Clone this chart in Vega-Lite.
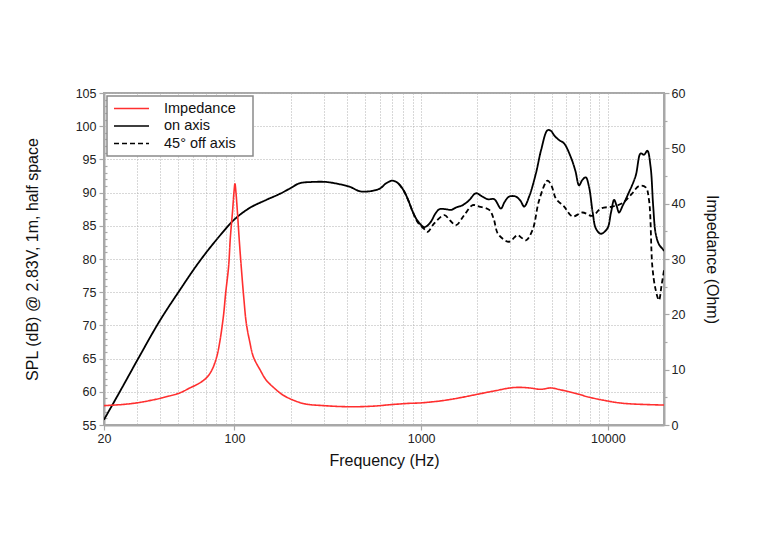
{
  "$schema": "https://vega.github.io/schema/vega-lite/v6.json",
  "width": 560,
  "height": 332,
  "autosize": {"type": "none"},
  "padding": {"left": 104, "top": 93, "right": 104, "bottom": 127},
  "background": "white",
  "config": {
    "font": "Liberation Sans",
    "view": {"stroke": "#a8a8a8", "strokeWidth": 2},
    "axis": {
      "domainColor": "#a8a8a8",
      "domainWidth": 2,
      "tickColor": "#a8a8a8",
      "tickWidth": 1.2,
      "labelFontSize": 12.5,
      "labelColor": "#222222",
      "titleFontSize": 16,
      "titleFontWeight": "normal",
      "titleColor": "#111111",
      "gridColor": "#b0b0b0",
      "gridDash": [1, 2],
      "gridWidth": 1
    },
    "legend": {
      "orient": "none",
      "legendX": 3,
      "legendY": 3,
      "strokeColor": "#8a8a8a",
      "strokeWidth": 1.5,
      "fillColor": "white",
      "padding": 4,
      "labelFontSize": 14.5,
      "labelColor": "#111111",
      "symbolType": "stroke",
      "symbolSize": 1225,
      "symbolStrokeWidth": 1.6,
      "symbolOffset": 2,
      "labelOffset": 14,
      "clipHeight": 17,
      "rowPadding": 0.5,
      "title": null
    }
  },
  "datasets": {
    "spl": [
      {"f": 20, "spl": 55.8, "series": "on axis"},
      {"f": 24.4, "spl": 60.1, "series": "on axis"},
      {"f": 31.2, "spl": 65.5, "series": "on axis"},
      {"f": 39.8, "spl": 70.7, "series": "on axis"},
      {"f": 50.9, "spl": 75.3, "series": "on axis"},
      {"f": 65.2, "spl": 79.7, "series": "on axis"},
      {"f": 83.4, "spl": 83.5, "series": "on axis"},
      {"f": 100.3, "spl": 86.0, "series": "on axis"},
      {"f": 120.8, "spl": 87.7, "series": "on axis"},
      {"f": 148, "spl": 88.9, "series": "on axis"},
      {"f": 174.6, "spl": 89.8, "series": "on axis"},
      {"f": 197.6, "spl": 90.6, "series": "on axis"},
      {"f": 223, "spl": 91.4, "series": "on axis"},
      {"f": 260, "spl": 91.6, "series": "on axis"},
      {"f": 310, "spl": 91.6, "series": "on axis"},
      {"f": 360, "spl": 91.3, "series": "on axis"},
      {"f": 413, "spl": 90.9, "series": "on axis"},
      {"f": 470, "spl": 90.2, "series": "on axis"},
      {"f": 530, "spl": 90.2, "series": "on axis"},
      {"f": 600, "spl": 90.6, "series": "on axis"},
      {"f": 650, "spl": 91.4, "series": "on axis"},
      {"f": 705, "spl": 91.8, "series": "on axis"},
      {"f": 760, "spl": 91.3, "series": "on axis"},
      {"f": 814, "spl": 90.1, "series": "on axis"},
      {"f": 860, "spl": 88.6, "series": "on axis"},
      {"f": 902, "spl": 87.1, "series": "on axis"},
      {"f": 960, "spl": 85.7, "series": "on axis"},
      {"f": 1041, "spl": 84.8, "series": "on axis"},
      {"f": 1120, "spl": 85.5, "series": "on axis"},
      {"f": 1190, "spl": 86.8, "series": "on axis"},
      {"f": 1253, "spl": 87.5, "series": "on axis"},
      {"f": 1350, "spl": 87.5, "series": "on axis"},
      {"f": 1446, "spl": 87.4, "series": "on axis"},
      {"f": 1550, "spl": 87.8, "series": "on axis"},
      {"f": 1667, "spl": 88.1, "series": "on axis"},
      {"f": 1800, "spl": 88.8, "series": "on axis"},
      {"f": 1966, "spl": 89.9, "series": "on axis"},
      {"f": 2100, "spl": 89.5, "series": "on axis"},
      {"f": 2270, "spl": 89.0, "series": "on axis"},
      {"f": 2466, "spl": 89.0, "series": "on axis"},
      {"f": 2675, "spl": 87.6, "series": "on axis"},
      {"f": 2800, "spl": 88.6, "series": "on axis"},
      {"f": 2964, "spl": 89.4, "series": "on axis"},
      {"f": 3217, "spl": 89.4, "series": "on axis"},
      {"f": 3400, "spl": 88.8, "series": "on axis"},
      {"f": 3565, "spl": 87.9, "series": "on axis"},
      {"f": 3800, "spl": 89.5, "series": "on axis"},
      {"f": 4120, "spl": 92.9, "series": "on axis"},
      {"f": 4400, "spl": 96.5, "series": "on axis"},
      {"f": 4755, "spl": 99.4, "series": "on axis"},
      {"f": 4954, "spl": 99.3, "series": "on axis"},
      {"f": 5200, "spl": 98.5, "series": "on axis"},
      {"f": 5490, "spl": 97.9, "series": "on axis"},
      {"f": 5834, "spl": 97.4, "series": "on axis"},
      {"f": 6324, "spl": 95.4, "series": "on axis"},
      {"f": 6700, "spl": 93.3, "series": "on axis"},
      {"f": 7016, "spl": 91.1, "series": "on axis"},
      {"f": 7300, "spl": 91.9, "series": "on axis"},
      {"f": 7621, "spl": 92.3, "series": "on axis"},
      {"f": 7927, "spl": 90.9, "series": "on axis"},
      {"f": 8300, "spl": 87.0, "series": "on axis"},
      {"f": 8630, "spl": 84.6, "series": "on axis"},
      {"f": 9168, "spl": 83.8, "series": "on axis"},
      {"f": 9945, "spl": 84.6, "series": "on axis"},
      {"f": 10400, "spl": 87.0, "series": "on axis"},
      {"f": 10810, "spl": 88.9, "series": "on axis"},
      {"f": 11150, "spl": 88.0, "series": "on axis"},
      {"f": 11490, "spl": 87.0, "series": "on axis"},
      {"f": 12000, "spl": 88.0, "series": "on axis"},
      {"f": 12720, "spl": 89.5, "series": "on axis"},
      {"f": 14090, "spl": 92.5, "series": "on axis"},
      {"f": 14990, "spl": 95.9, "series": "on axis"},
      {"f": 15630, "spl": 95.7, "series": "on axis"},
      {"f": 16290, "spl": 96.3, "series": "on axis"},
      {"f": 16950, "spl": 93.9, "series": "on axis"},
      {"f": 17500, "spl": 88.0, "series": "on axis"},
      {"f": 18030, "spl": 83.9, "series": "on axis"},
      {"f": 18800, "spl": 82.2, "series": "on axis"},
      {"f": 19800, "spl": 81.4, "series": "on axis"},
      {"f": 20000, "spl": 81.2, "series": "on axis"},
      {"f": 760, "spl": 91.3, "series": "45° off axis"},
      {"f": 814, "spl": 90.1, "series": "45° off axis"},
      {"f": 860, "spl": 88.6, "series": "45° off axis"},
      {"f": 902, "spl": 87.1, "series": "45° off axis"},
      {"f": 960, "spl": 85.5, "series": "45° off axis"},
      {"f": 1041, "spl": 84.5, "series": "45° off axis"},
      {"f": 1084, "spl": 84.1, "series": "45° off axis"},
      {"f": 1178, "spl": 85.4, "series": "45° off axis"},
      {"f": 1332, "spl": 86.6, "series": "45° off axis"},
      {"f": 1430, "spl": 85.8, "series": "45° off axis"},
      {"f": 1537, "spl": 85.1, "series": "45° off axis"},
      {"f": 1700, "spl": 86.6, "series": "45° off axis"},
      {"f": 1887, "spl": 88.1, "series": "45° off axis"},
      {"f": 2050, "spl": 87.9, "series": "45° off axis"},
      {"f": 2317, "spl": 87.4, "series": "45° off axis"},
      {"f": 2450, "spl": 86.0, "series": "45° off axis"},
      {"f": 2566, "spl": 83.9, "series": "45° off axis"},
      {"f": 2750, "spl": 83.0, "series": "45° off axis"},
      {"f": 2964, "spl": 82.6, "series": "45° off axis"},
      {"f": 3281, "spl": 83.6, "series": "45° off axis"},
      {"f": 3450, "spl": 83.2, "series": "45° off axis"},
      {"f": 3639, "spl": 82.8, "series": "45° off axis"},
      {"f": 3955, "spl": 84.4, "series": "45° off axis"},
      {"f": 4292, "spl": 88.9, "series": "45° off axis"},
      {"f": 4755, "spl": 91.8, "series": "45° off axis"},
      {"f": 5000, "spl": 91.0, "series": "45° off axis"},
      {"f": 5272, "spl": 89.1, "series": "45° off axis"},
      {"f": 5834, "spl": 87.9, "series": "45° off axis"},
      {"f": 6466, "spl": 86.4, "series": "45° off axis"},
      {"f": 7310, "spl": 87.0, "series": "45° off axis"},
      {"f": 8277, "spl": 86.5, "series": "45° off axis"},
      {"f": 9168, "spl": 87.6, "series": "45° off axis"},
      {"f": 10580, "spl": 87.9, "series": "45° off axis"},
      {"f": 11970, "spl": 88.4, "series": "45° off axis"},
      {"f": 13520, "spl": 89.9, "series": "45° off axis"},
      {"f": 14700, "spl": 91.0, "series": "45° off axis"},
      {"f": 15960, "spl": 90.8, "series": "45° off axis"},
      {"f": 16620, "spl": 88.9, "series": "45° off axis"},
      {"f": 17320, "spl": 78.9, "series": "45° off axis"},
      {"f": 18000, "spl": 75.5, "series": "45° off axis"},
      {"f": 18800, "spl": 73.8, "series": "45° off axis"},
      {"f": 19400, "spl": 76.0, "series": "45° off axis"},
      {"f": 20000, "spl": 78.3, "series": "45° off axis"}
    ],
    "imp": [
      {"f": 20, "z": 3.5, "series": "Impedance"},
      {"f": 25, "z": 3.7, "series": "Impedance"},
      {"f": 30, "z": 4.0, "series": "Impedance"},
      {"f": 35, "z": 4.4, "series": "Impedance"},
      {"f": 42, "z": 5.0, "series": "Impedance"},
      {"f": 50.9, "z": 5.8, "series": "Impedance"},
      {"f": 57.7, "z": 6.7, "series": "Impedance"},
      {"f": 65.2, "z": 7.6, "series": "Impedance"},
      {"f": 71.1, "z": 8.6, "series": "Impedance"},
      {"f": 75.6, "z": 9.9, "series": "Impedance"},
      {"f": 80.3, "z": 12.3, "series": "Impedance"},
      {"f": 83.4, "z": 15.0, "series": "Impedance"},
      {"f": 87.2, "z": 19.6, "series": "Impedance"},
      {"f": 89.8, "z": 24.0, "series": "Impedance"},
      {"f": 93.0, "z": 28.6, "series": "Impedance"},
      {"f": 95.0, "z": 33.8, "series": "Impedance"},
      {"f": 97.8, "z": 38.9, "series": "Impedance"},
      {"f": 99.4, "z": 42.1, "series": "Impedance"},
      {"f": 100.6, "z": 43.6, "series": "Impedance"},
      {"f": 101.8, "z": 42.1, "series": "Impedance"},
      {"f": 103.5, "z": 38.9, "series": "Impedance"},
      {"f": 106.1, "z": 33.4, "series": "Impedance"},
      {"f": 108.7, "z": 28.6, "series": "Impedance"},
      {"f": 112.1, "z": 23.1, "series": "Impedance"},
      {"f": 115.7, "z": 18.4, "series": "Impedance"},
      {"f": 120.8, "z": 15.0, "series": "Impedance"},
      {"f": 126.3, "z": 12.3, "series": "Impedance"},
      {"f": 137.5, "z": 9.9, "series": "Impedance"},
      {"f": 148, "z": 8.1, "series": "Impedance"},
      {"f": 164.3, "z": 6.6, "series": "Impedance"},
      {"f": 182, "z": 5.4, "series": "Impedance"},
      {"f": 210, "z": 4.4, "series": "Impedance"},
      {"f": 240, "z": 3.8, "series": "Impedance"},
      {"f": 300, "z": 3.5, "series": "Impedance"},
      {"f": 413, "z": 3.3, "series": "Impedance"},
      {"f": 550, "z": 3.4, "series": "Impedance"},
      {"f": 700, "z": 3.7, "series": "Impedance"},
      {"f": 850, "z": 3.9, "series": "Impedance"},
      {"f": 1000, "z": 4.0, "series": "Impedance"},
      {"f": 1300, "z": 4.4, "series": "Impedance"},
      {"f": 1600, "z": 4.9, "series": "Impedance"},
      {"f": 1968, "z": 5.5, "series": "Impedance"},
      {"f": 2500, "z": 6.2, "series": "Impedance"},
      {"f": 3000, "z": 6.7, "series": "Impedance"},
      {"f": 3354, "z": 6.8, "series": "Impedance"},
      {"f": 3800, "z": 6.7, "series": "Impedance"},
      {"f": 4381, "z": 6.45, "series": "Impedance"},
      {"f": 4954, "z": 6.7, "series": "Impedance"},
      {"f": 5500, "z": 6.4, "series": "Impedance"},
      {"f": 6745, "z": 5.7, "series": "Impedance"},
      {"f": 8000, "z": 5.0, "series": "Impedance"},
      {"f": 9750, "z": 4.4, "series": "Impedance"},
      {"f": 11500, "z": 4.0, "series": "Impedance"},
      {"f": 13520, "z": 3.8, "series": "Impedance"},
      {"f": 16000, "z": 3.7, "series": "Impedance"},
      {"f": 20000, "z": 3.6, "series": "Impedance"}
    ]
  },
  "encoding": {
    "x": {
      "field": "f",
      "type": "quantitative",
      "scale": {"type": "log", "domain": [20, 20000], "nice": false},
      "axis": {
        "title": "Frequency (Hz)",
        "values": [20, 30, 40, 50, 60, 70, 80, 90, 100, 200, 300, 400, 500, 600, 700, 800, 900, 1000, 2000, 3000, 4000, 5000, 6000, 7000, 8000, 9000, 10000, 20000],
        "format": "d",
        "labelExpr": "(datum.value == 20 || datum.value == 100 || datum.value == 1000 || datum.value == 10000) ? datum.label : ''",
        "labelOverlap": false,
        "labelFlush": false,
        "labelPadding": 2,
        "tickSize": {"condition": {"test": "datum.value == 20 || datum.value == 100 || datum.value == 1000 || datum.value == 10000", "value": 5}, "value": 0},
        "grid": true,
        "titlePadding": 8
      }
    },
    "color": {
      "field": "series",
      "type": "nominal",
      "scale": {"domain": ["Impedance", "on axis", "45° off axis"], "range": ["#ff2f2f", "#000000", "#000000"]},
      "legend": {"title": null, "encode": {"entries": {"update": {"width": {"value": 138}}}}}
    },
    "strokeDash": {
      "field": "series",
      "type": "nominal",
      "scale": {"domain": ["Impedance", "on axis", "45° off axis"], "range": [[1, 0], [1, 0], [5, 3]]},
      "legend": {"title": null, "encode": {"entries": {"update": {"width": {"value": 138}}}}}
    }
  },
  "layer": [
    {
      "data": {"name": "spl"},
      "mark": {"type": "line", "interpolate": "catmull-rom", "strokeWidth": 1.8, "clip": true},
      "encoding": {
        "y": {
          "field": "spl",
          "type": "quantitative",
          "scale": {"domain": [55, 105], "nice": false, "zero": false},
          "axis": {
            "orient": "left",
            "title": "SPL (dB) @ 2.83V, 1m, half space",
            "values": [55, 56, 57, 58, 59, 60, 61, 62, 63, 64, 65, 66, 67, 68, 69, 70, 71, 72, 73, 74, 75, 76, 77, 78, 79, 80, 81, 82, 83, 84, 85, 86, 87, 88, 89, 90, 91, 92, 93, 94, 95, 96, 97, 98, 99, 100, 101, 102, 103, 104, 105],
            "labelExpr": "datum.value % 5 == 0 ? datum.label : ''",
            "labelOverlap": false,
            "labelFlush": false,
            "labelPadding": 3,
            "tickSize": {"condition": {"test": "datum.value % 5 == 0", "value": 5}, "value": -3},
            "grid": true,
            "gridOpacity": {"condition": {"test": "datum.value % 5 == 0", "value": 1}, "value": 0},
            "titlePadding": 35
          }
        }
      }
    },
    {
      "data": {"name": "imp"},
      "mark": {"type": "line", "interpolate": "catmull-rom", "strokeWidth": 1.6, "clip": true},
      "encoding": {
        "y": {
          "field": "z",
          "type": "quantitative",
          "scale": {"domain": [0, 60], "nice": false},
          "axis": {
            "orient": "right",
            "title": "Impedance (Ohm)",
            "values": [0, 5, 10, 15, 20, 25, 30, 35, 40, 45, 50, 55, 60],
            "labelExpr": "datum.value % 10 == 0 ? datum.label : ''",
            "labelOverlap": false,
            "labelFlush": false,
            "labelPadding": 2,
            "tickSize": {"condition": {"test": "datum.value % 10 == 0", "value": 5}, "value": 3},
            "grid": false,
            "titlePadding": 19
          }
        }
      }
    }
  ],
  "resolve": {"scale": {"y": "independent"}}
}
